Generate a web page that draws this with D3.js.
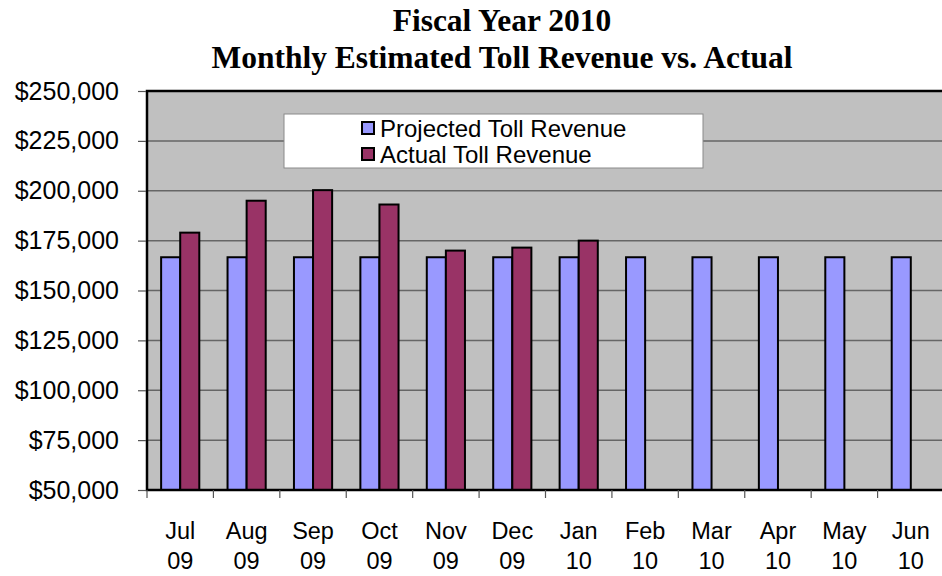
<!DOCTYPE html>
<html>
<head>
<meta charset="utf-8">
<title>Fiscal Year 2010</title>
<style>
  body { margin: 0; background: #fff; }
  svg { display: block; }
</style>
</head>
<body>
<script src="https://cdn.jsdelivr.net/npm/d3@7"></script>
<script>
// data
var months = ["Jul 09","Aug 09","Sep 09","Oct 09","Nov 09","Dec 09","Jan 10","Feb 10","Mar 10","Apr 10","May 10","Jun 10"];
var seriesNames = ["Projected Toll Revenue","Actual Toll Revenue"];
var projected = [166667,166667,166667,166667,166667,166667,166667,166667,166667,166667,166667,166667];
var actual = [179000,195000,200300,193100,170000,171500,175000,null,null,null,null,null];
var yTicks = [50000,75000,100000,125000,150000,175000,200000,225000,250000];
var titleLines = ["Fiscal Year 2010","Monthly Estimated Toll Revenue vs. Actual"];

var width = 942, height = 576;
var colors = ["#9999FF","#993366"];

var svg = d3.select("body").append("svg")
    .attr("width", width)
    .attr("height", height);

var plot = {left:147, top:91, right:944, bottom:490};

var x0 = d3.scaleBand().domain(months).range([plot.left, plot.right]).padding(0);
var x1 = d3.scaleBand().domain(seriesNames).range([0, x0.bandwidth()]).paddingInner(0).paddingOuter(0.74);
var y = d3.scaleLinear().domain([50000,250000]).range([plot.bottom, plot.top]);

// title
svg.selectAll("text.title")
    .data(titleLines)
    .join("text")
    .attr("class","title")
    .attr("x", 502)
    .attr("y", (d,i) => 31 + i*37)
    .attr("text-anchor","middle")
    .attr("font-family","'Liberation Serif','Times New Roman',serif")
    .attr("font-weight","bold")
    .attr("font-size", 31.5)
    .attr("fill","#000")
    .text(d => d);

// plot background
svg.append("rect")
    .attr("x", plot.left).attr("y", plot.top)
    .attr("width", plot.right - plot.left).attr("height", plot.bottom - plot.top)
    .attr("fill","#C0C0C0");

// gridlines
svg.selectAll("line.grid")
    .data(yTicks.slice(1, -1))
    .join("line")
    .attr("class","grid")
    .attr("x1", plot.left).attr("x2", plot.right)
    .attr("y1", d => y(d)).attr("y2", d => y(d))
    .attr("stroke","#666")
    .attr("stroke-width",1.5);

// legend
var lg = svg.append("g");
lg.append("rect")
    .attr("x",284).attr("y",114)
    .attr("width",419).attr("height",54)
    .attr("fill","#fff")
    .attr("stroke","#8a8a8a")
    .attr("stroke-width",1);
seriesNames.forEach(function(name,i){
    var cy = 128 + i*26;
    lg.append("rect")
        .attr("x",362).attr("y",cy-6)
        .attr("width",12).attr("height",12)
        .attr("fill",colors[i])
        .attr("stroke","#000")
        .attr("stroke-width",2);
    lg.append("text")
        .attr("x",380).attr("y",cy)
        .attr("dy","0.36em")
        .attr("font-family","'Liberation Sans',Arial,sans-serif")
        .attr("font-size",24)
        .attr("fill","#000")
        .text(name);
});

// bars
var barData = [];
months.forEach(function(m,i){
    barData.push({month:m, series:seriesNames[0], value:projected[i], c:0});
    if (actual[i] != null) barData.push({month:m, series:seriesNames[1], value:actual[i], c:1});
});
svg.append("g").selectAll("rect")
    .data(barData)
    .join("rect")
    .attr("x", d => x0(d.month) + x1(d.series))
    .attr("y", d => y(d.value))
    .attr("width", x1.bandwidth())
    .attr("height", d => plot.bottom - y(d.value))
    .attr("fill", d => colors[d.c])
    .attr("stroke","#000")
    .attr("stroke-width",2);

// frame: top, left, bottom
svg.append("path")
    .attr("d","M"+plot.right+","+plot.top+"H"+plot.left+"V"+plot.bottom+"H"+plot.right)
    .attr("fill","none")
    .attr("stroke","#000")
    .attr("stroke-width",2.5);

// y axis
var yAxis = d3.axisLeft(y)
    .tickValues(yTicks)
    .tickSize(8)
    .tickPadding(19)
    .tickFormat(d3.format("$,"));
var gy = svg.append("g")
    .attr("transform","translate("+(plot.left-1)+",0)")
    .call(yAxis);
gy.select(".domain").remove();
gy.selectAll(".tick line").attr("stroke","#555").attr("stroke-width",1.2);
gy.selectAll(".tick text")
    .attr("font-family","'Liberation Sans',Arial,sans-serif")
    .attr("font-size",25)
    .attr("fill","#000");

// x axis ticks at category boundaries
var bounds = months.map(m => x0(m));
svg.selectAll("line.xtick")
    .data(bounds)
    .join("line")
    .attr("class","xtick")
    .attr("x1", d => d).attr("x2", d => d)
    .attr("y1", plot.bottom).attr("y2", plot.bottom + 8)
    .attr("stroke","#555")
    .attr("stroke-width",1.2);

// x labels, two lines
var xl = svg.selectAll("text.xlab")
    .data(months)
    .join("text")
    .attr("class","xlab")
    .attr("text-anchor","middle")
    .attr("font-family","'Liberation Sans',Arial,sans-serif")
    .attr("font-size",23.5)
    .attr("fill","#000");
xl.each(function(d){
    var parts = d.split(" ");
    var cx = x0(d) + x0.bandwidth()/2;
    var t = d3.select(this);
    t.append("tspan").attr("x",cx).attr("y",539).text(parts[0]);
    t.append("tspan").attr("x",cx).attr("y",569).text(parts[1]);
});
</script>
</body>
</html>
